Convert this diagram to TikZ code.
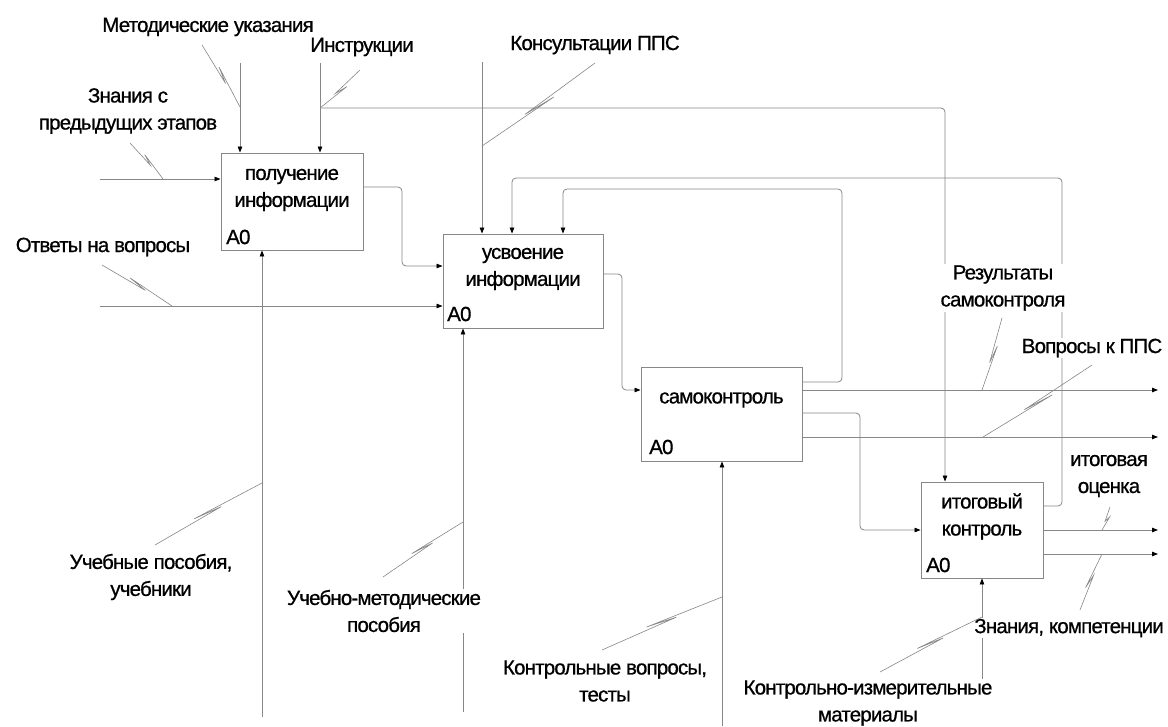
\documentclass[tikz,border=0pt]{standalone}
\usepackage{fontspec}
\setmainfont[LetterSpace=-4,FakeBold=0.7]{Liberation Sans}
\usetikzlibrary{arrows.meta,calc}
\definecolor{lgray}{RGB}{135,135,135}
\newcommand{\sqg}[2]{\draw[sq] (#1) -- ($(#1)!0.62!(#2)$) -- ($(#1)!0.38!(#2)!3pt!90:(#2)$) -- (#2);}
\begin{document}
\begin{tikzpicture}[x=1pt,y=-1pt,
  ln/.style={draw=lgray, line width=0.8pt},
  arr/.style={ln, -{Triangle[length=6pt,width=4.5pt,color=black,fill=black]}},
  rc/.style={rounded corners=4pt},
  box/.style={draw=lgray, line width=0.9pt, fill=white, inner sep=0pt},
  txt/.style={font=\fontsize{20.5}{27}\selectfont, align=center, inner sep=1pt, text=black},
  lbl/.style={txt, fill=white},
  aid/.style={font=\fontsize{20.5}{22}\selectfont, anchor=west, inner sep=0pt},
  sq/.style={draw=lgray, line width=0.6pt}]
\useasboundingbox (0,0) rectangle (1168,726);
\fill[white] (0,0) rectangle (1168,726);

% boxes
\node[box, minimum width=142pt, minimum height=97pt] (b1) at (292,201.5) {};
\node[box, minimum width=160pt, minimum height=94pt] (b2) at (523,281) {};
\node[box, minimum width=161pt, minimum height=94pt] (b3) at (721.5,414) {};
\node[box, minimum width=122pt, minimum height=96pt] (b4) at (982,530) {};

\node[txt] (t1) at (292,190) {получение\\информации};
\node[txt] (t2) at (523,269) {усвоение\\информации};
\node[txt] (t3) at (721.5,400) {самоконтроль};
\node[txt] (t4) at (982,516.5) {итоговый\\контроль};
\node[aid] (a1) at (226,237) {A0};
\node[aid] (a2) at (447,314) {A0};
\node[aid] (a3) at (649,447) {A0};
\node[aid] (a4) at (926,565) {A0};

% inputs
\coordinate (i1) at (100,179);
\draw[arr] (i1) -- (i1 -| b1.west);
\coordinate (i2) at (100,306);
\draw[arr] (i2) -- (i2 -| b2.west);

% links between boxes
\draw[arr,rc] (b1.east |- 0,187) -- (402,187) -- (402,266) -- (b2.west |- 0,266);
\draw[arr,rc] (b2.east |- 0,274) -- (622,274) -- (622,390) -- (b3.west |- 0,390);
\draw[arr,rc] (b3.east |- 0,382) -- (842,382) -- (842,189) -- (563,189) -- (563,0 |- b2.north);
\draw[arr,rc] (b3.east |- 0,413) -- (860,413) -- (860,530) -- (b4.west |- 0,530);
\draw[arr,rc] (b4.east |- 0,506) -- (1062,506) -- (1062,178) -- (512,178) -- (512,0 |- b2.north);

% outputs
\coordinate (o1) at (1158,390); \draw[arr] (b3.east |- o1) -- (o1);
\coordinate (o2) at (1158,437); \draw[arr] (b3.east |- o2) -- (o2);
\coordinate (o3) at (1158,530); \draw[arr] (b4.east |- o3) -- (o3);
\coordinate (o4) at (1158,554); \draw[arr] (b4.east |- o4) -- (o4);

% controls
\coordinate (c1) at (240,63); \draw[arr] (c1) -- (c1 |- b1.north);
\coordinate (c2) at (320,63); \draw[arr] (c2) -- (c2 |- b1.north);
\coordinate (c2j) at (320,108);
\draw[arr,rc] (c2j) -- (945,108) -- (945,0 |- b4.north);
\coordinate (c3) at (482,62); \draw[arr] (c3) -- (c3 |- b2.north);

% mechanisms
\coordinate (m1) at (262,717); \draw[arr] (m1) -- (m1 |- b1.south);
\coordinate (m2) at (463,712); \draw[arr] (m2) -- (m2 |- b2.south);
\coordinate (m3) at (722,726); \draw[arr] (m3) -- (m3 |- b3.south);
\coordinate (m4) at (982,726); \draw[arr] (m4) -- (m4 |- b4.south);

% labels
\node[lbl] (Lmet) at (208,27) {Методические указания};
\node[lbl] (Lins) at (362,47) {Инструкции};
\node[lbl] (Lzn) at (128,111) {Знания с\\предыдущих этапов};
\node[lbl] (Lotv) at (103,247) {Ответы на вопросы};
\node[lbl] (Lkon) at (595,45) {Консультации ППС};
\node[lbl] (Lrez) at (1003,288) {Результаты\\самоконтроля};
\node[lbl] (Lvop) at (1092,348) {Вопросы к ППС};
\node[lbl] (Lit) at (1109,476) {итоговая\\оценка};
\node[lbl] (Lzk) at (1069,628) {Знания, компетенции};
\node[lbl] (Luch) at (151,577) {Учебные пособия,\\учебники};
\node[lbl] (Lum) at (384,611) {Учебно-методические\\пособия};
\node[lbl] (Lkv) at (605,681) {Контрольные вопросы,\\тесты};
\node[lbl] (Lkim) at (868,703) {Контрольно-измерительные\\материалы};

% squiggles
\coordinate (s1a) at (202,45);   \coordinate (s1b) at (240,107);
\coordinate (s2a) at (360,70);   \coordinate (s2b) at (320,108);
\coordinate (s3a) at (130,143);  \coordinate (s3b) at (163,179);
\coordinate (s4a) at (102,265);  \coordinate (s4b) at (172,306);
\coordinate (s5a) at (595,63);   \coordinate (s5b) at (482,146);
\coordinate (s6a) at (155,545);  \coordinate (s6b) at (262,483);
\coordinate (s7a) at (383,577);  \coordinate (s7b) at (463,522);
\coordinate (s8a) at (602,650);  \coordinate (s8b) at (722,597);
\coordinate (s9a) at (880,672);  \coordinate (s9b) at (982,617);
\coordinate (s10a) at (1002,318); \coordinate (s10b) at (982,390);
\coordinate (s11a) at (1092,365); \coordinate (s11b) at (983,437);
\coordinate (s12a) at (1110,507); \coordinate (s12b) at (1102,530);
\coordinate (s13a) at (1080,610); \coordinate (s13b) at (1102,554);
\sqg{s1a}{s1b}
\sqg{s2a}{s2b}
\sqg{s3a}{s3b}
\sqg{s4a}{s4b}
\sqg{s5a}{s5b}
\sqg{s6a}{s6b}
\sqg{s7a}{s7b}
\sqg{s8a}{s8b}
\sqg{s9a}{s9b}
\sqg{s10a}{s10b}
\sqg{s11a}{s11b}
\sqg{s12a}{s12b}
\sqg{s13a}{s13b}
\end{tikzpicture}
\end{document}
